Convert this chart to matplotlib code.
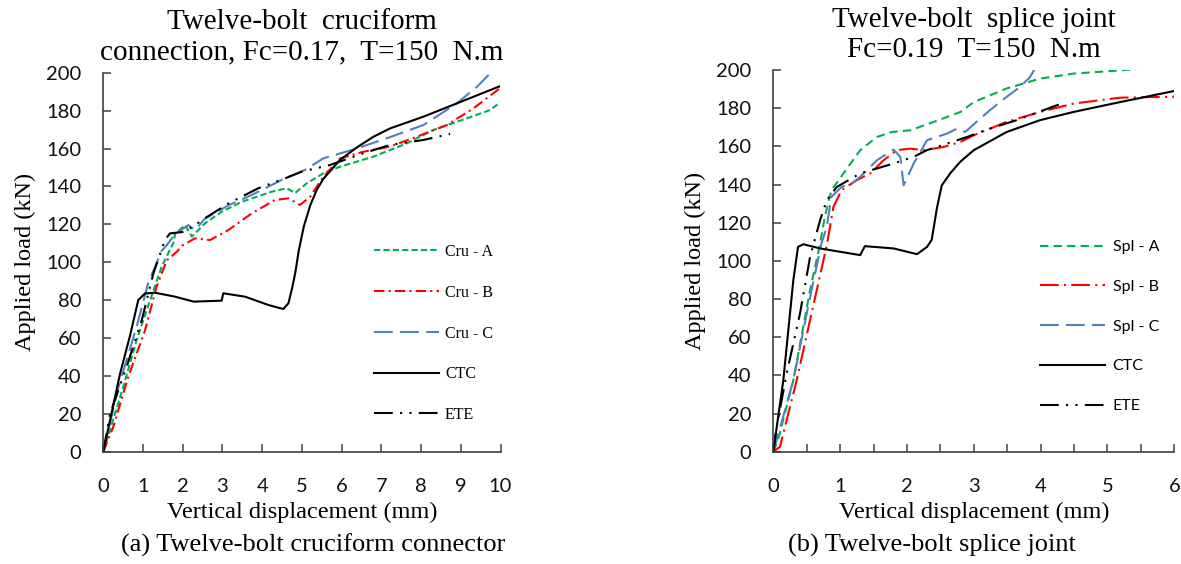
import numpy as np
import matplotlib
matplotlib.use("Agg")
import matplotlib.pyplot as plt

# ---- (a) cruciform connection ----
cru_a_x = [0, 0.5, 0.84, 1.18, 1.47, 1.76, 1.81, 2.06, 2.23, 2.56, 2.98, 3.49, 4.24, 4.62, 4.83, 5.12, 5.54, 5.96, 6.8, 7.64, 8.31, 9.15, 9.74, 10.0]
cru_a_y = [0, 34, 59, 80, 97.6, 110, 115, 119.6, 113.5, 120.5, 126.6, 131.9, 137.2, 139, 136.5, 141.6, 146.9, 150.4, 155.7, 162.7, 169.8, 175.9, 180.3, 184.5]

cru_b_x = [0, 0.25, 0.63, 1.05, 1.34, 1.6, 1.85, 2.0, 2.31, 2.69, 3.15, 3.74, 4.32, 4.66, 4.95, 5.21, 5.54, 5.96, 6.55, 7.22, 7.89, 8.65, 9.32, 10.0]
cru_b_y = [0, 13, 39.6, 64, 87, 101, 105.5, 109, 112.6, 111.7, 117, 125.8, 132.8, 133.7, 130.2, 134.6, 145.1, 154.8, 158.3, 161, 166.2, 172.4, 181.2, 192]

cru_c_x = [0, 0.38, 0.84, 1.13, 1.47, 1.6, 1.81, 2.14, 2.31, 2.56, 3.15, 3.74, 4.49, 5.08, 5.54, 6.38, 7.22, 8.06, 8.9, 9.41, 9.74, 9.95]
cru_c_y = [0, 34, 66, 89, 106, 109, 115, 119.6, 117, 123, 130, 135.5, 143.4, 148.7, 154.8, 160, 166, 172.4, 183.8, 192.6, 199.7, 204]

ctc_a_x = [0, 0.42, 0.67, 0.88, 1.05, 1.30, 1.81, 2.27, 2.98, 3.02, 3.57, 4.16, 4.53, 4.66, 4.75, 4.83, 4.92, 5.05, 5.21, 5.37, 5.54, 5.96, 6.38, 6.8, 7.22, 8.06, 8.9, 10.0]
ctc_a_y = [0, 41, 61, 80, 83.5, 83.9, 81.8, 79.2, 79.7, 83.6, 81.8, 77.4, 75.3, 78.3, 86, 94, 106, 119, 130, 138, 144, 154, 160.5, 166.2, 170.6, 176.8, 183.8, 193]

ete_a_x = [0, 0.17, 0.59, 0.97, 1.26, 1.55, 1.68, 2.06, 2.56, 3.15, 3.9, 4.58, 5.0, 5.71, 6.55, 7.22, 8.06, 8.73]
ete_a_y = [0, 20, 45, 69.5, 94, 111.7, 115.2, 116.1, 123.2, 131, 139, 144.3, 147.8, 151.3, 157.5, 161.9, 164.5, 167.7]

# ---- (b) splice joint ----
spl_a_x = [0, 0.07, 0.3, 0.55, 0.70, 0.77, 0.87, 1.05, 1.30, 1.55, 1.77, 2.05, 2.40, 2.8, 3.0, 3.49, 3.99, 4.49, 5.19, 5.45]
spl_a_y = [0, 6, 37.5, 84.7, 109, 123, 137, 145.8, 158, 164.9, 167.5, 168.4, 172.8, 178, 183.2, 190.3, 195.5, 198.1, 199.8, 200.5]

spl_b_x = [0, 0.1, 0.35, 0.55, 0.8, 0.9, 1.02, 1.25, 1.45, 1.65, 1.85, 2.05, 2.25, 2.55, 2.8, 3.0, 3.49, 3.99, 4.49, 5.19, 6.0]
spl_b_y = [0, 2.6, 37.5, 69, 108, 128.3, 137, 142.3, 145.8, 152.7, 158, 158.8, 158, 159.7, 162.3, 165.8, 172.8, 178, 182.4, 185.5, 186]

spl_c_x = [0, 0.05, 0.3, 0.55, 0.72, 0.8, 0.87, 1.02, 1.17, 1.30, 1.55, 1.80, 1.9, 1.95, 2.1, 2.3, 2.6, 2.75, 2.87, 3.04, 3.24, 3.49, 3.69, 3.84, 3.92]
spl_c_y = [0, 6, 37.5, 81, 109, 117.8, 133.5, 138.7, 140.5, 144, 152.7, 158.3, 154.5, 139.6, 151, 163.2, 166.7, 169.3, 167.5, 172.8, 178.9, 185.9, 191.1, 196.3, 201]

ctc_b_x = [0, 0.15, 0.30, 0.37, 0.45, 0.70, 1.30, 1.37, 1.80, 2.15, 2.30, 2.37, 2.45, 2.52, 2.65, 2.80, 3.0, 3.49, 3.99, 4.49, 5.19, 6.0]
ctc_b_y = [0, 37.5, 90, 107.3, 108.7, 106.5, 103, 107.7, 106.5, 103.5, 107.3, 111, 128, 139.5, 146, 152, 158, 167.5, 173.7, 178, 183.2, 189]

ete_b_x = [0, 0.05, 0.2, 0.4, 0.55, 0.7, 0.8, 0.95, 1.3, 1.8, 2.1, 2.3, 2.9, 3.24, 3.64, 4.24, 4.35]
ete_b_y = [0, 13, 41, 72.5, 102, 121.3, 131.8, 138.7, 145.8, 151, 154.5, 158, 164.9, 169.3, 173.7, 181.5, 182.5]

y_ticks = [0, 20, 40, 60, 80, 100, 120, 140, 160, 180, 200]

GREEN = '#00B050'
RED = '#FF0000'
BLUE = '#4F81BD'
BLACK = '#000000'

SERIF = 'Liberation Serif'
SANS = 'Lato'

fig = plt.figure(figsize=(11.81, 5.64), dpi=100)

W, H = 1181.0, 564.0
def axes_px(left, right, top, bottom):
    return fig.add_axes([left / W, 1 - bottom / H, (right - left) / W, (bottom - top) / H])

ax1 = axes_px(103.3, 500.5, 72.7, 451.7)
ax2 = axes_px(773.3, 1174.3, 70.0, 451.7)

LW = 1.5

def style_axes(ax, xmax, xticks, xlabels):
    ax.set_xlim(0, xmax)
    ax.set_ylim(0, 200)
    ax.set_yticks(y_ticks)
    ax.set_xticks(xticks)
    ax.set_xticklabels(xlabels)
    for s in ['top', 'right']:
        ax.spines[s].set_visible(False)
    for s in ['left', 'bottom']:
        ax.spines[s].set_color('#404040')
        ax.spines[s].set_linewidth(1.2)
    ax.tick_params(axis='y', direction='in', length=5.5, width=1.1, color='#404040', pad=16)
    ax.tick_params(axis='x', direction='in', length=5.5, width=1.1, color='#404040', pad=19)
    for lab in ax.get_xticklabels() + ax.get_yticklabels():
        lab.set_fontfamily(SANS)
        lab.set_fontsize(14.5)
        lab.set_color('#111111')
    ax.set_xlabel('Vertical displacement (mm)', fontfamily=SERIF, fontsize=17.5, labelpad=4.5)
    ax.set_ylabel('Applied load (kN)', fontfamily=SERIF, fontsize=17.5, labelpad=7)

# left chart
ax1.plot(cru_a_x, cru_a_y, color=GREEN, lw=LW, dashes=(3, 1.5), label='Cru - A')
ax1.plot(cru_b_x, cru_b_y, color=RED, lw=LW, dashes=(5, 2, 1, 2), label='Cru - B')
ax1.plot(cru_c_x, cru_c_y, color=BLUE, lw=LW, dashes=(9, 3.5), label='Cru - C')
ax1.plot(ctc_a_x, ctc_a_y, color=BLACK, lw=LW, label='CTC')
ax1.plot(ete_a_x, ete_a_y, color=BLACK, lw=LW, dashes=(9, 3.5, 1, 3.5, 1, 3.5), label='ETE')
style_axes(ax1, 10, list(range(0, 11)), [str(i) for i in range(0, 11)])

# right chart
ax2.plot(spl_a_x, spl_a_y, color=GREEN, lw=LW, dashes=(4, 2.5), label='Spl - A')
ax2.plot(spl_b_x, spl_b_y, color=RED, lw=LW, dashes=(9, 2.5, 1, 2.5), label='Spl - B')
ax2.plot(spl_c_x, spl_c_y, color=BLUE, lw=LW, dashes=(9, 3.5), label='Spl - C')
ax2.plot(ctc_b_x, ctc_b_y, color=BLACK, lw=LW, label='CTC')
ax2.plot(ete_b_x, ete_b_y, color=BLACK, lw=LW, dashes=(9, 3.5, 1, 3.5, 1, 3.5), label='ETE')
xt2 = np.arange(0, 6.01, 0.5)
style_axes(ax2, 6, xt2, [str(int(v)) if v == int(v) else '' for v in xt2])

# legends
leg1 = ax1.legend(loc='upper left', bbox_to_anchor=(374 / W, 1 - 244 / H), bbox_transform=fig.transFigure,
                  frameon=False, handlelength=4.1, handletextpad=0.35, labelspacing=1.55,
                  borderpad=0, borderaxespad=0, prop={'family': SERIF, 'size': 11.5})
leg2 = ax2.legend(loc='upper left', bbox_to_anchor=(1040 / W, 1 - 240 / H), bbox_transform=fig.transFigure,
                  frameon=False, handlelength=4.1, handletextpad=0.45, labelspacing=1.6,
                  borderpad=0, borderaxespad=0, prop={'family': SANS, 'size': 11.5})

# titles
fig.text(301.7 / W, 1 - 22 / H, 'Twelve-bolt  cruciform', ha='center', va='center', fontfamily=SERIF, fontsize=21)
fig.text(301.7 / W, 1 - 52 / H, 'connection, Fc=0.17,  T=150  N.m', ha='center', va='center', fontfamily=SERIF, fontsize=21)
fig.text(973.8 / W, 1 - 20 / H, 'Twelve-bolt  splice joint', ha='center', va='center', fontfamily=SERIF, fontsize=21)
fig.text(973.8 / W, 1 - 50 / H, 'Fc=0.19  T=150  N.m', ha='center', va='center', fontfamily=SERIF, fontsize=21)

# captions
fig.text(313 / W, 1 - 545 / H, '(a) Twelve-bolt cruciform connector', ha='center', va='center', fontfamily=SERIF, fontsize=19)
fig.text(932 / W, 1 - 545 / H, '(b) Twelve-bolt splice joint', ha='center', va='center', fontfamily=SERIF, fontsize=19)

fig.savefig('out.png', dpi=100)
